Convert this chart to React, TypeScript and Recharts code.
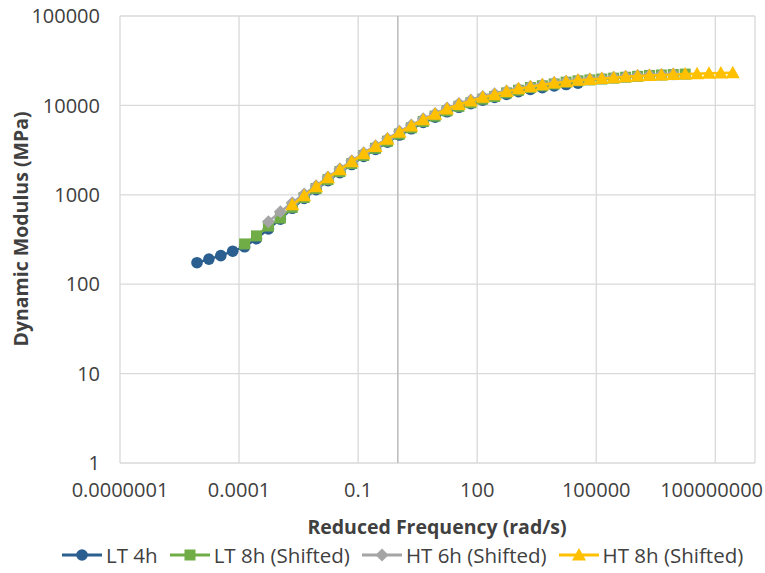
import React from "react";
import {
  ScatterChart,
  Scatter,
  XAxis,
  YAxis,
  CartesianGrid,
  ReferenceLine,
  Legend,
} from "recharts";

if (typeof document !== "undefined") document.body.style.margin = "0";

// reduced frequency (rad/s) and dynamic modulus (MPa)
const lt4hFreq = [
  8.71e-6, 1.74e-5, 3.47e-5, 6.92e-5, 1.38e-4, 2.75e-4, 5.5e-4, 1.1e-3, 2.19e-3,
  4.37e-3, 8.71e-3, 0.0174, 0.0347, 0.0692, 0.138, 0.275, 0.55, 1.1, 2.19, 4.37,
  8.71, 17.4, 34.7, 69.2, 138, 275, 550, 1100, 2190, 4370, 8710, 17400, 34700,
];
const lt4hModulus = [
  174, 191, 209, 234, 262, 323, 416, 535, 706, 909, 1144, 1440, 1772, 2180,
  2682, 3224, 3877, 4661, 5476, 6434, 7387, 8482, 9517, 10435, 11442, 12260,
  13289, 14239, 15083, 15793, 16538, 17119, 17721,
];

const lt8hFreq = [
  1.38e-4, 2.75e-4, 5.5e-4, 1.1e-3, 2.19e-3, 4.37e-3, 8.71e-3, 0.0174, 0.0347,
  0.0692, 0.138, 0.275, 0.55, 1.1, 2.19, 4.37, 8.71, 17.4, 34.7, 69.2, 138, 275,
  550, 1100, 2190, 4370, 8710, 17400, 34700, 69200, 1.38e5, 2.75e5, 5.5e5,
  1.1e6, 2.19e6, 4.37e6, 8.71e6, 1.74e7,
];
const lt8hModulus = [
  282, 347, 447, 550, 724, 933, 1175, 1479, 1820, 2239, 2754, 3311, 3981, 4786,
  5623, 6607, 7586, 8710, 9772, 10715, 11749, 12589, 13804, 14791, 15849,
  16596, 17378, 18197, 18836, 19275, 19724, 20184, 20654, 21135, 21627, 21878,
  22131, 22387,
];

const ht6hFreq = [
  5.5e-4, 1.1e-3, 2.19e-3, 4.37e-3, 8.71e-3, 0.0174, 0.0347, 0.0692, 0.138,
  0.275, 0.55, 1.1, 2.19, 4.37, 8.71, 17.4, 34.7, 69.2, 138, 275, 550, 1100,
  2190, 4370, 8710, 17400, 34700, 69200, 1.38e5, 2.75e5, 5.5e5, 1.1e6, 2.19e6,
  4.37e6, 8.71e6,
];
const ht6hModulus = [
  501, 646, 813, 1023, 1259, 1585, 1950, 2399, 2951, 3548, 4266, 5129, 6026,
  7079, 8128, 9333, 10471, 11482, 12589, 13490, 14454, 15488, 16406, 17179,
  17989, 18621, 19275, 19724, 20184, 20654, 21135, 21627, 21878, 22131, 22387,
];

const ht8hFreq = [
  2.19e-3, 4.37e-3, 8.71e-3, 0.0174, 0.0347, 0.0692, 0.138, 0.275, 0.55, 1.1,
  2.19, 4.37, 8.71, 17.4, 34.7, 69.2, 138, 275, 550, 1100, 2190, 4370, 8710,
  17400, 34700, 69200, 1.38e5, 2.75e5, 5.5e5, 1.1e6, 2.19e6, 4.37e6, 8.71e6,
  1.74e7, 3.47e7, 6.92e7, 1.38e8, 2.75e8,
];
const ht8hModulus = [
  776, 977, 1230, 1549, 1905, 2344, 2884, 3467, 4169, 5012, 5888, 6918, 7943,
  9120, 10233, 11220, 12303, 13183, 14289, 15311, 16218, 16982, 17783, 18408,
  19055, 19498, 19953, 20417, 20893, 21380, 21627, 21878, 22131, 22387, 22646,
  22909, 23014, 23174,
];

const xTicks = [1e-7, 1e-4, 0.1, 100, 1e5, 1e8];
const yTicks = [1, 10, 100, 1000, 10000, 100000];

const zip = (xs: number[], ys: number[]) => xs.map((x, i) => ({ x, y: ys[i] }));

type MarkerKind = "circle" | "square" | "diamond" | "triangle";

function Marker({ kind, cx, cy, color }: { kind: MarkerKind; cx: number; cy: number; color: string }) {
  if (kind === "circle") return <circle cx={cx} cy={cy} r={5.8} fill={color} />;
  if (kind === "square")
    return <rect x={cx - 5.5} y={cy - 5.5} width={11} height={11} fill={color} />;
  if (kind === "diamond")
    return (
      <polygon
        points={`${cx},${cy - 6.5} ${cx + 6.5},${cy} ${cx},${cy + 6.5} ${cx - 6.5},${cy}`}
        fill={color}
      />
    );
  return (
    <polygon
      points={`${cx},${cy - 7} ${cx + 7},${cy + 5.5} ${cx - 7},${cy + 5.5}`}
      fill={color}
    />
  );
}

const series = [
  { name: "LT 4h", data: zip(lt4hFreq, lt4hModulus), color: "#2a5f8f", kind: "circle" as MarkerKind },
  { name: "LT 8h (Shifted)", data: zip(lt8hFreq, lt8hModulus), color: "#70ad47", kind: "square" as MarkerKind },
  { name: "HT 6h (Shifted)", data: zip(ht6hFreq, ht6hModulus), color: "#a5a5a5", kind: "diamond" as MarkerKind },
  { name: "HT 8h (Shifted)", data: zip(ht8hFreq, ht8hModulus), color: "#ffc000", kind: "triangle" as MarkerKind },
];

function formatFreq(v: number): string {
  if (v < 1) return v.toFixed(Math.round(-Math.log10(v)));
  return String(v);
}

// keeps the last label inside the picture, as Excel does
function FreqTick({ x, y, payload }: any) {
  const label = formatFreq(payload.value);
  const half = label.length * 5.6;
  const tx = Math.min(x, 762 - half);
  return (
    <text
      x={tx}
      y={y}
      dy="0.71em"
      textAnchor="middle"
      fill="#404040"
      fontSize={20}
      fontFamily="Open Sans"
    >
      {label}
    </text>
  );
}

function LegendContent() {
  return (
    <div
      style={{
        height: 36,
        display: "flex",
        alignItems: "center",
        paddingLeft: 62,
        fontFamily: "Open Sans",
        fontSize: 20.5,
        color: "#404040",
        whiteSpace: "nowrap",
      }}
    >
      {series.map((s) => (
        <div key={s.name} style={{ display: "flex", alignItems: "center", marginRight: 12 }}>
          <svg width={40} height={16}>
            <line x1={0} y1={8} x2={40} y2={8} stroke={s.color} strokeWidth={3} />
            <Marker kind={s.kind} cx={20} cy={8} color={s.color} />
          </svg>
          <span style={{ marginLeft: 4 }}>{s.name}</span>
        </div>
      ))}
    </div>
  );
}

export default function App() {
  const tickStyle = { fill: "#404040", fontSize: 20, fontFamily: "Open Sans" };
  return (
    <ScatterChart
      width={765}
      height={573}
      margin={{ top: 16, right: 10, left: 0, bottom: 0 }}
      style={{ fontFamily: "Open Sans" }}
    >
      <CartesianGrid stroke="#d9d9d9" strokeWidth={1.3} />
      <XAxis
        type="number"
        dataKey="x"
        scale="log"
        domain={[1e-7, 1e9]}
        ticks={xTicks}
        allowDataOverflow
        tick={<FreqTick />}
        axisLine={false}
        tickLine={false}
        tickSize={0}
        tickMargin={20}
        height={74}
        interval={0}
        label={{
          content: () => (
            <text
              x={437}
              y={534}
              textAnchor="middle"
              fontSize={19.5}
              fontWeight="bold"
              fill="#404040"
              fontFamily="Open Sans"
            >
              Reduced Frequency (rad/s)
            </text>
          ),
        }}
      />
      <YAxis
        type="number"
        dataKey="y"
        scale="log"
        domain={[1, 100000]}
        ticks={yTicks}
        allowDataOverflow
        tick={tickStyle}
        axisLine={false}
        tickLine={false}
        tickSize={0}
        tickMargin={20}
        width={120}
        interval={0}
        label={{
          content: () => (
            <text
              x={28}
              y={229}
              textAnchor="middle"
              fontSize={19.5}
              fontWeight="bold"
              fill="#404040"
              fontFamily="Open Sans"
              transform="rotate(-90 28 229)"
            >
              Dynamic Modulus (MPa)
            </text>
          ),
        }}
      />
      <ReferenceLine x={1} stroke="#bfbfbf" strokeWidth={1.6} />
      <Legend verticalAlign="bottom" content={<LegendContent />} />
      {series.map((s) => (
        <Scatter
          key={s.name}
          name={s.name}
          data={s.data}
          fill={s.color}
          line={{ stroke: s.color, strokeWidth: 2.5 }}
          isAnimationActive={false}
          shape={(p: any) => <Marker kind={s.kind} cx={p.cx} cy={p.cy} color={s.color} />}
        />
      ))}
    </ScatterChart>
  );
}
